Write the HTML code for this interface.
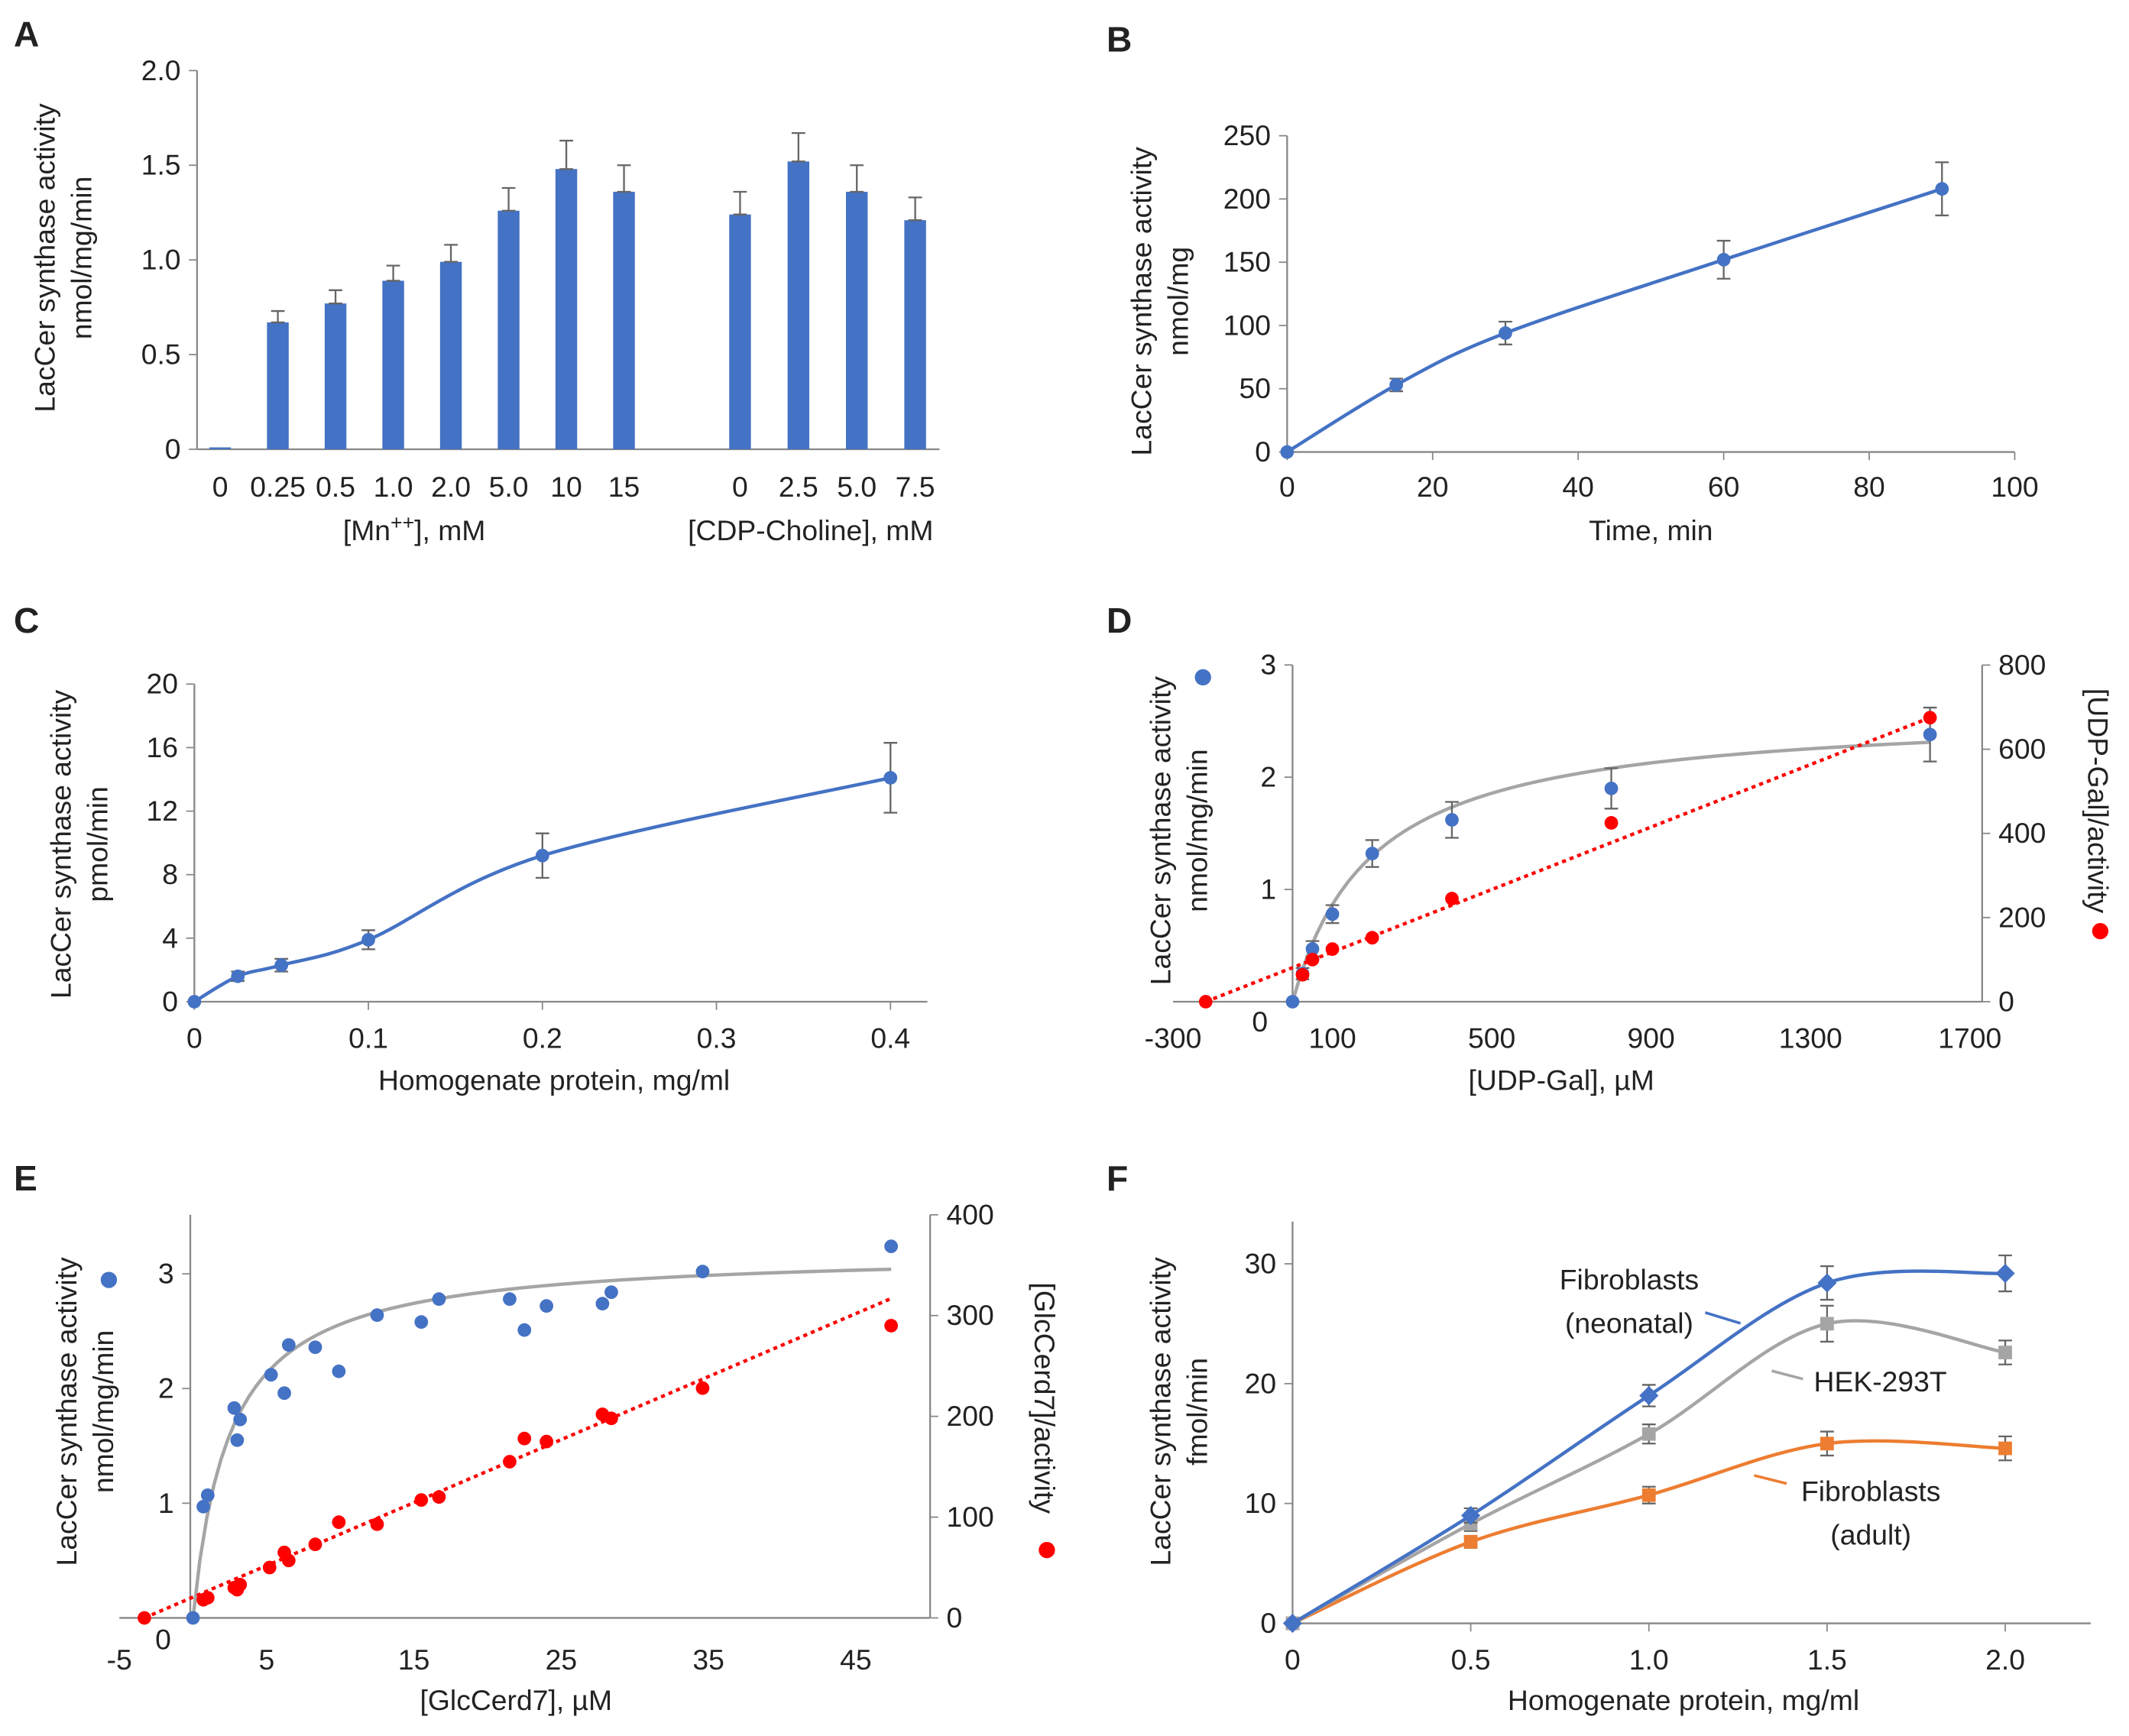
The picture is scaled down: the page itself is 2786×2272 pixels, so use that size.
<!DOCTYPE html>
<html><head><meta charset="utf-8"><style>
html,body{margin:0;padding:0;background:#fff}
svg{display:block}
text{font-family:"Liberation Sans",sans-serif;fill:#222}
</style></head><body>
<svg id="fig" width="2786" height="2272" viewBox="0 0 1568 1279" xmlns="http://www.w3.org/2000/svg"></svg>
<script>
// ---------- DATA ----------
const aCats=["0","0.25","0.5","1.0","2.0","5.0","10","15","0","2.5","5.0","7.5"];
const aVals=[0.01,0.67,0.77,0.89,0.99,1.26,1.48,1.36,1.24,1.52,1.36,1.21];
const aErr=[0,0.06,0.07,0.08,0.09,0.12,0.15,0.14,0.12,0.15,0.14,0.12];
const aTicks=[0,0.5,1.0,1.5,2.0];
const bX=[0,15,30,60,90];
const bY=[0,53,94,152,208];
const bErr=[0,5,9,15,21];
const bXTicks=[0,20,40,60,80,100];
const bYTicks=[0,50,100,150,200,250];
const cX=[0,0.025,0.05,0.1,0.2,0.4];
const cY=[0,1.6,2.3,3.9,9.2,14.1];
const cErr=[0,0.3,0.4,0.6,1.4,2.2];
const cXTicks=[0,0.1,0.2,0.3,0.4];
const cYTicks=[0,4,8,12,16,20];
const dBlueX=[0,25,50,100,200,400,800,1600];
const dBlueY=[0,0.25,0.47,0.78,1.32,1.62,1.9,2.38];
const dBlueErr=[0,0.05,0.07,0.08,0.12,0.16,0.18,0.24];
const dRedX=[-218,25,50,100,200,400,800,1600];
const dRedY=[0,64,100,125,152,245,425,675];
const dFit=[2.6,200];
const dXTicks=[-300,100,500,900,1300,1700];
const dLTicks=[1,2,3];
const dRTicks=[0,200,400,600,800];
const eBlueX=[0,0.7,1,2.8,3,3.2,5.3,6.2,6.5,8.3,9.9,12.5,15.5,16.7,21.5,22.5,24,27.8,28.4,34.6,47.4];
const eBlueY=[0,0.97,1.07,1.83,1.55,1.73,2.12,1.96,2.38,2.36,2.15,2.64,2.58,2.78,2.78,2.51,2.72,2.74,2.84,3.02,3.24];
const eRedX=[-3.3,0.7,1,2.8,3,3.2,5.2,6.2,6.5,8.3,9.9,12.5,15.5,16.7,21.5,22.5,24,27.8,28.4,34.6,47.4];
const eRedY=[0,18,20,30,28,33,50,65,57,73,95,93,117,120,155,178,175,202,198,228,290];
const eFit=[3.2,2.5];
const eXTicks=[-5,5,15,25,35,45];
const eLTicks=[1,2,3];
const eRTicks=[0,100,200,300,400];
const fX=[0,0.5,1.0,1.5,2.0];
const fNeo=[0,9,19,28.4,29.2];
const fHek=[0,8.3,15.8,25,22.6];
const fAdult=[0,6.8,10.7,15,14.6];
const fErr=[[0,0.6,0.9,1.4,1.5],[0,0.6,0.8,1.5,1.0],[0,0.5,0.7,1.0,1.0]];
const fXTicks=["0","0.5","1.0","1.5","2.0"];
const fYTicks=[0,10,20,30];

// ---------- HELPERS ----------
const svg=document.getElementById('fig');const NS="http://www.w3.org/2000/svg";
function el(t,a,p){const e=document.createElementNS(NS,t);for(const k in a)e.setAttribute(k,a[k]);(p||svg).appendChild(e);return e;}
function txt(x,y,s,size,anchor,extra,p){const e=el('text',Object.assign({x:x,y:y,'font-size':size,'text-anchor':anchor||'middle'},extra||{}),p);e.textContent=s;return e;}
function grp(name){const g=el('g',{});return g;}
const BLUE="#4472C4",GRAY="#A5A5A5",ORANGE="#ED7D31",RED="#FF0000",AX="#888";
function smooth(pts){let d="M"+pts[0][0]+","+pts[0][1];for(let i=0;i<pts.length-1;i++){const p0=pts[i-1]||pts[i],p1=pts[i],p2=pts[i+1],p3=pts[i+2]||p2;
d+=" C"+(p1[0]+(p2[0]-p0[0])/6)+","+(p1[1]+(p2[1]-p0[1])/6)+" "+(p2[0]-(p3[0]-p1[0])/6)+","+(p2[1]-(p3[1]-p1[1])/6)+" "+p2[0]+","+p2[1];}return d;}
function ebar(g,x,y1,y2){el('line',{x1:x,x2:x,y1:y1,y2:y2,stroke:"#666","stroke-width":1.3},g);el('line',{x1:x-5,x2:x+5,y1:y1,y2:y1,stroke:"#666","stroke-width":1.3},g);el('line',{x1:x-5,x2:x+5,y1:y2,y2:y2,stroke:"#666","stroke-width":1.3},g);}
function ytitle(x,y,l1,l2,name){const g=grp(name);
txt(0,0,l1,21,'middle',{transform:`translate(${x},${y}) rotate(-90)`},g);
if(l2)txt(0,0,l2,21,'middle',{transform:`translate(${x+27},${y}) rotate(-90)`},g);return g;}
function letter(x,y,s){const t=txt(x,y,s,26,'start',{'font-weight':'bold'});}

// ---------- PANEL A ----------
(function(){letter(10,34,"A");const g=grp('panel-a-chart');
const x0=145,yb=331,yt=52;const ys=v=>yb-(v/2.0)*(yb-yt);
el('line',{x1:x0,x2:x0,y1:yt,y2:yb,stroke:AX,"stroke-width":1.3},g);
el('line',{x1:x0,x2:692,y1:yb,y2:yb,stroke:AX,"stroke-width":1.3},g);
aTicks.forEach(t=>{el('line',{x1:x0-6,x2:x0,y1:ys(t),y2:ys(t),stroke:AX},g);txt(x0-12,ys(t)+7,t===0?"0":t.toFixed(1),21,'end');});
const xs=i=>i<8?162+i*42.5:545+(i-8)*43;
aVals.forEach((v,i)=>{const b=el('rect',{x:xs(i)-8,y:ys(v),width:16,height:yb-ys(v),fill:BLUE},g);
if(aErr[i])ebar(g,xs(i),ys(v+aErr[i]),ys(v));txt(xs(i),366,aCats[i],21);});
const t1=txt(305,398,"",21);t1.innerHTML='[Mn<tspan dy="-8" font-size="15">++</tspan><tspan dy="8">], mM</tspan>';
const t2=txt(597,398,"[CDP-Choline], mM",21);
ytitle(40,190,"LacCer synthase activity","nmol/mg/min",'a-y-axis-title');})();

// ---------- PANEL B ----------
(function(){letter(815,38,"B");const g=grp('panel-b-chart');
const ox=948,oy=333;const xs=v=>ox+v*5.36,ys=v=>oy-v*0.932;
el('line',{x1:ox,x2:ox,y1:ys(250),y2:oy,stroke:AX,"stroke-width":1.3},g);el('line',{x1:ox,x2:xs(100),y1:oy,y2:oy,stroke:AX,"stroke-width":1.3},g);
bYTicks.forEach(t=>{el('line',{x1:ox-6,x2:ox,y1:ys(t),y2:ys(t),stroke:AX},g);txt(ox-12,ys(t)+7,t,21,'end');});
bXTicks.forEach(t=>{el('line',{x1:xs(t),x2:xs(t),y1:oy,y2:oy+6,stroke:AX},g);txt(xs(t),366,t,21);});
const l=el('path',{d:smooth(bX.map((x,i)=>[xs(x),ys(bY[i])])),fill:'none',stroke:BLUE,'stroke-width':2.5},g);
bX.forEach((x,i)=>{if(bErr[i])ebar(g,xs(x),ys(bY[i]+bErr[i]),ys(bY[i]-bErr[i]));el('circle',{cx:xs(x),cy:ys(bY[i]),r:5,fill:BLUE},g);});
txt(1216,398,"Time, min",21);
ytitle(848,222,"LacCer synthase activity","nmol/mg",'b-y-axis-title');})();

// ---------- PANEL C ----------
(function(){letter(10,466,"C");const g=grp('panel-c-chart');
const ox=143,oy=738;const xs=v=>ox+v*1282,ys=v=>oy-v*11.7;
el('line',{x1:ox,x2:ox,y1:ys(20),y2:oy,stroke:AX,"stroke-width":1.3},g);el('line',{x1:ox,x2:683,y1:oy,y2:oy,stroke:AX,"stroke-width":1.3},g);
cYTicks.forEach(t=>{el('line',{x1:ox-6,x2:ox,y1:ys(t),y2:ys(t),stroke:AX},g);txt(ox-12,ys(t)+7,t,21,'end');});
cXTicks.forEach(t=>{el('line',{x1:xs(t),x2:xs(t),y1:oy,y2:oy+6,stroke:AX},g);txt(xs(t),772,t,21);});
const l=el('path',{d:smooth(cX.map((x,i)=>[xs(x),ys(cY[i])])),fill:'none',stroke:BLUE,'stroke-width':2.5},g);
cX.forEach((x,i)=>{if(cErr[i])ebar(g,xs(x),ys(cY[i]+cErr[i]),ys(cY[i]-cErr[i]));el('circle',{cx:xs(x),cy:ys(cY[i]),r:5,fill:BLUE},g);});
txt(408,803,"Homogenate protein, mg/ml",21);
ytitle(52,622,"LacCer synthase activity","pmol/min",'c-y-axis-title');})();

// ---------- PANEL D ----------
(function(){letter(815,466,"D");const g=grp('panel-d-chart');
const ox=952,oy=738,xr=1460;const xs=v=>ox+v*0.2935,yl=v=>oy-v*82.7,yr=v=>oy-v*0.31;
el('line',{x1:ox,x2:ox,y1:490,y2:oy,stroke:AX,"stroke-width":1.3},g);el('line',{x1:xr,x2:xr,y1:490,y2:oy,stroke:AX,"stroke-width":1.3},g);
el('line',{x1:xs(-300),x2:xr,y1:oy,y2:oy,stroke:AX,"stroke-width":1.3},g);
dLTicks.forEach(t=>{el('line',{x1:ox-6,x2:ox,y1:yl(t),y2:yl(t),stroke:AX},g);txt(ox-12,yl(t)+7,t,21,'end');});
txt(928,760,"0",21);
dRTicks.forEach(t=>{el('line',{x1:xr,x2:xr+6,y1:yr(t),y2:yr(t),stroke:AX},g);txt(xr+12,yr(t)+7,t,21,'start');});
dXTicks.forEach(t=>{txt(xs(t),772,t,21);});
const fit=[];for(let i=0;i<=80;i++){const x=1600*i/80;fit.push([xs(x),yl(dFit[0]*x/(dFit[1]+x))]);}
el('path',{d:"M"+fit.map(p=>p.join(",")).join(" L"),fill:'none',stroke:GRAY,'stroke-width':2.5},g);
const n=dRedX.length-1;el('line',{x1:xs(dRedX[0]),y1:yr(dRedY[0]),x2:xs(dRedX[n]),y2:yr(dRedY[n]),stroke:RED,'stroke-width':2.5,'stroke-dasharray':'3,3'},g);
dBlueX.forEach((x,i)=>{if(dBlueErr[i])ebar(g,xs(x),yl(dBlueY[i]+dBlueErr[i]),yl(dBlueY[i]-dBlueErr[i]));el('circle',{cx:xs(x),cy:yl(dBlueY[i]),r:5,fill:BLUE},g);});
dRedX.forEach((x,i)=>{el('circle',{cx:xs(x),cy:yr(dRedY[i]),r:5,fill:RED},g);});
txt(1150,803,"[UDP-Gal], \u00B5M",21);
ytitle(862,612,"LacCer synthase activity","nmol/mg/min",'d-y-axis-title');
el('circle',{cx:886,cy:499,r:6,fill:BLUE});
const rt=txt(0,0,"[UDP-Gal]/activity",21,'middle',{transform:'translate(1538,590) rotate(90)'});
el('circle',{cx:1547,cy:686,r:6,fill:RED});})();

// ---------- PANEL E ----------
(function(){letter(10,877,"E");const g=grp('panel-e-chart');
const ox=142,oy=1192,xr=685;const xs=v=>ox+v*10.85,yl=v=>oy-v*84.5,yr=v=>oy-v*0.7425;
el('line',{x1:ox-2,x2:ox-2,y1:895,y2:oy,stroke:AX,"stroke-width":1.3},g);el('line',{x1:xr,x2:xr,y1:895,y2:oy,stroke:AX,"stroke-width":1.3},g);
el('line',{x1:xs(-5),x2:xr,y1:oy,y2:oy,stroke:AX,"stroke-width":1.3},g);
eLTicks.forEach(t=>{el('line',{x1:ox-8,x2:ox-2,y1:yl(t),y2:yl(t),stroke:AX},g);txt(ox-14,yl(t)+7,t,21,'end');});
txt(120,1215,"0",21);
eRTicks.forEach(t=>{el('line',{x1:xr,x2:xr+6,y1:yr(t),y2:yr(t),stroke:AX},g);txt(xr+12,yr(t)+7,t,21,'start');});
eXTicks.forEach(t=>{txt(xs(t),1230,t,21);});
const fit=[];for(let i=0;i<=100;i++){const x=47.4*i/100;fit.push([xs(x),yl(eFit[0]*x/(eFit[1]+x))]);}
el('path',{d:"M"+fit.map(p=>p.join(",")).join(" L"),fill:'none',stroke:GRAY,'stroke-width':2.5},g);
const n=eRedX.length-1;el('line',{x1:xs(eRedX[0]),y1:yr(eRedY[0]),x2:xs(eRedX[n]),y2:yr(eRedY[n])-20,stroke:RED,'stroke-width':2.5,'stroke-dasharray':'3,3'},g);
eBlueX.forEach((x,i)=>el('circle',{cx:xs(x),cy:yl(eBlueY[i]),r:5,fill:BLUE},g));
eRedX.forEach((x,i)=>el('circle',{cx:xs(x),cy:yr(eRedY[i]),r:5,fill:RED},g));
txt(380,1260,"[GlcCerd7], \u00B5M",21);
ytitle(56,1040,"LacCer synthase activity","nmol/mg/min",'e-y-axis-title');
el('circle',{cx:80,cy:943,r:6,fill:BLUE});
txt(0,0,"[GlcCerd7]/activity",21,'middle',{transform:'translate(762,1030) rotate(90)'});
el('circle',{cx:771,cy:1142,r:6,fill:RED});})();

// ---------- PANEL F ----------
(function(){letter(815,877,"F");const g=grp('panel-f-chart');
const ox=952,oy=1196;const xs=v=>ox+v*262.5,ys=v=>oy-v*8.83;
el('line',{x1:ox,x2:ox,y1:900,y2:oy,stroke:AX,"stroke-width":1.3},g);el('line',{x1:ox,x2:1540,y1:oy,y2:oy,stroke:AX,"stroke-width":1.3},g);
fYTicks.forEach(t=>{el('line',{x1:ox-6,x2:ox,y1:ys(t),y2:ys(t),stroke:AX},g);txt(ox-12,ys(t)+7,t,21,'end');});
fX.forEach((t,i)=>{el('line',{x1:xs(t),x2:xs(t),y1:oy,y2:oy+6,stroke:AX},g);txt(xs(t),1230,fXTicks[i],21);});
[[fAdult,ORANGE,'adult',2],[fHek,GRAY,'hek',1],[fNeo,BLUE,'neonatal',0]].forEach(([ys_,c,nm,ei])=>{
const p=el('path',{d:smooth(fX.map((x,i)=>[xs(x),ys(ys_[i])])),fill:'none',stroke:c,'stroke-width':2.5},g);
fX.forEach((x,i)=>{if(fErr[ei][i])ebar(g,xs(x),ys(ys_[i]+fErr[ei][i]),ys(ys_[i]-fErr[ei][i]));el('rect',{x:xs(x)-5,y:ys(ys_[i])-5,width:10,height:10,fill:c,transform:nm==='neonatal'?`rotate(45 ${xs(x)} ${ys(ys_[i])})`:''},g);});});
txt(1200,950,"Fibroblasts",21);txt(1200,982,"(neonatal)",21);
el('line',{x1:1256,y1:967,x2:1282,y2:975,stroke:BLUE,'stroke-width':2});
txt(1385,1025,"HEK-293T",21);
el('line',{x1:1305,y1:1010,x2:1328,y2:1016,stroke:GRAY,'stroke-width':2});
txt(1378,1106,"Fibroblasts",21);txt(1378,1138,"(adult)",21);
el('line',{x1:1292,y1:1087,x2:1316,y2:1093,stroke:ORANGE,'stroke-width':2});
txt(1240,1260,"Homogenate protein, mg/ml",21);
ytitle(862,1040,"LacCer synthase activity","fmol/min",'f-y-axis-title');})();
</script>
</body></html>
